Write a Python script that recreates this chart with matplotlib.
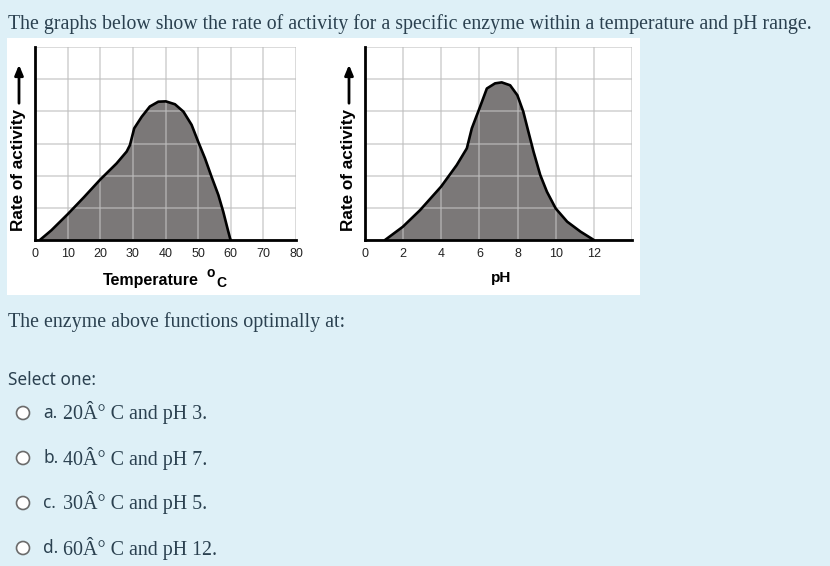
import matplotlib
matplotlib.use('Agg')
import matplotlib.pyplot as plt
from matplotlib.patches import Rectangle, Circle

# --- data ---
temp_x = [1.5, 5.0, 10.0, 15.0, 20.0, 25.0, 28.1, 29.1, 30.4, 32.7, 35.2, 37.8,
          40.1, 42.9, 45.5, 48.0, 50.0, 52.1, 54.1, 56.2, 57.7, 59.0, 59.8, 60.0]
temp_y = [0, 0.3, 0.8, 1.33, 1.88, 2.38, 2.75, 2.95, 3.47, 3.83, 4.15, 4.3,
          4.31, 4.22, 3.99, 3.58, 3.06, 2.54, 1.97, 1.4, 0.88, 0.36, 0.05, 0]
temp_ticks = [0, 10, 20, 30, 40, 50, 60, 70, 80]

ph_x = [1.05, 1.98, 2.89, 3.99, 4.81, 5.34, 5.6, 6.0, 6.39, 6.82, 7.17, 7.61,
        7.99, 8.3, 8.57, 8.84, 9.19, 9.54, 10.0, 10.6, 11.3, 12.0]
ph_y = [0, 0.41, 0.93, 1.66, 2.33, 2.85, 3.47, 4.09, 4.71, 4.87, 4.9, 4.81,
        4.5, 3.99, 3.36, 2.74, 2.02, 1.5, 0.98, 0.57, 0.26, 0]
ph_ticks = [0, 2, 4, 6, 8, 10, 12]

title = 'The graphs below show the rate of activity for a specific enzyme within a temperature and pH range.'
question = 'The enzyme above functions optimally at:'
options = [('a.', '20Â° C and pH 3.'),
           ('b.', '40Â° C and pH 7.'),
           ('c.', '30Â° C and pH 5.'),
           ('d.', '60Â° C and pH 12.')]

W, H = 830, 566
BG = '#def0f7'
TXT = '#2b4150'
SERIF = 'Liberation Serif'
SANS = 'Liberation Sans'

fig = plt.figure(figsize=(W / 100, H / 100), dpi=100)
fig.patch.set_facecolor(BG)

# background axes in pixel units
bg = fig.add_axes([0, 0, 1, 1])
bg.set_xlim(0, W)
bg.set_ylim(H, 0)
bg.axis('off')
bg.add_patch(Rectangle((7, 38), 633, 257, facecolor='white', edgecolor='none'))

bg.text(8, 24, title, family=SERIF, fontsize=14.35, color=TXT, va='center')
bg.text(8, 322, question, family=SERIF, fontsize=14.4, color=TXT, va='center')
bg.text(8, 380, 'Select one:', family='Noto Sans', fontsize=12.4, color=TXT, va='center')
for i, (letter, rest) in enumerate(options):
    yy = 413 + i * 45
    bg.add_patch(Circle((23, yy), 6.5, facecolor='white', edgecolor='#6b6b6b', lw=1.2))
    bg.text(43, yy, letter, family='Noto Sans', fontsize=12.4, color=TXT, va='center')
    bg.text(63, yy, rest, family=SERIF, fontsize=14.4, color=TXT, va='center')


def px_axes(x0, x1, y_top, y_bot):
    return fig.add_axes([x0 / W, 1 - y_bot / H, (x1 - x0) / W, (y_bot - y_top) / H])


def draw_chart(ax, xs, ys, ticks, xmax, grid_step):
    ax.set_xlim(0, xmax)
    ax.set_ylim(0, 6)
    ax.fill_between(xs, ys, 0, color='#7b7878', lw=0, zorder=1)
    # grid on top of the fill, semi-transparent
    gx = 0
    while gx <= xmax + 1e-9:
        ax.axvline(gx, color='#bfbfbf', alpha=0.67, lw=1.2, zorder=2)
        gx += grid_step
    for gy in range(0, 7):
        ax.axhline(gy, color='#bfbfbf', alpha=0.67, lw=1.2, zorder=2)
    ax.plot(xs, ys, color='black', lw=1.9, zorder=3,
            solid_capstyle='round', solid_joinstyle='round')
    for s in ['top', 'right']:
        ax.spines[s].set_visible(False)
    for s in ['left', 'bottom']:
        ax.spines[s].set_linewidth(2.0)
        ax.spines[s].set_zorder(4)
    ax.set_facecolor('white')
    ax.set_xticks(ticks)
    ax.set_xticklabels([str(t) for t in ticks], family=SANS, fontsize=9, color='#222222')
    ax.set_yticks([])
    ax.tick_params(axis='x', length=0, pad=6)


ax1 = px_axes(35, 296, 47, 240)
draw_chart(ax1, temp_x, temp_y, temp_ticks, 80, 10)
ax2 = px_axes(365, 632, 47, 240)
draw_chart(ax2, ph_x, ph_y, ph_ticks, 14, 2)

# x labels
bg.text(103, 285, 'Temperature', family=SANS, fontweight='bold', fontsize=11.5,
        color='black', ha='left', va='baseline')
bg.text(206, 277, 'o', family=SANS, fontweight='bold', fontsize=10,
        color='black', ha='left', va='baseline')
bg.text(216, 287, 'C', family=SANS, fontweight='bold', fontsize=10,
        color='black', ha='left', va='baseline')
bg.text(501, 282, 'pH', family=SANS, fontweight='bold', fontsize=11,
        color='black', ha='center', va='baseline')

# y labels with arrows
for xx in [18, 348]:
    bg.text(xx, 170, 'Rate of activity', family=SANS, fontweight='bold', fontsize=12.3,
            color='black', rotation=90, ha='center', va='center')
    bg.annotate('', xy=(xx + 1, 62), xytext=(xx + 1, 106),
                arrowprops=dict(arrowstyle='-|>,head_length=0.6,head_width=0.25',
                                color='black', lw=2))

fig.savefig('out.png', dpi=100, facecolor=BG)
